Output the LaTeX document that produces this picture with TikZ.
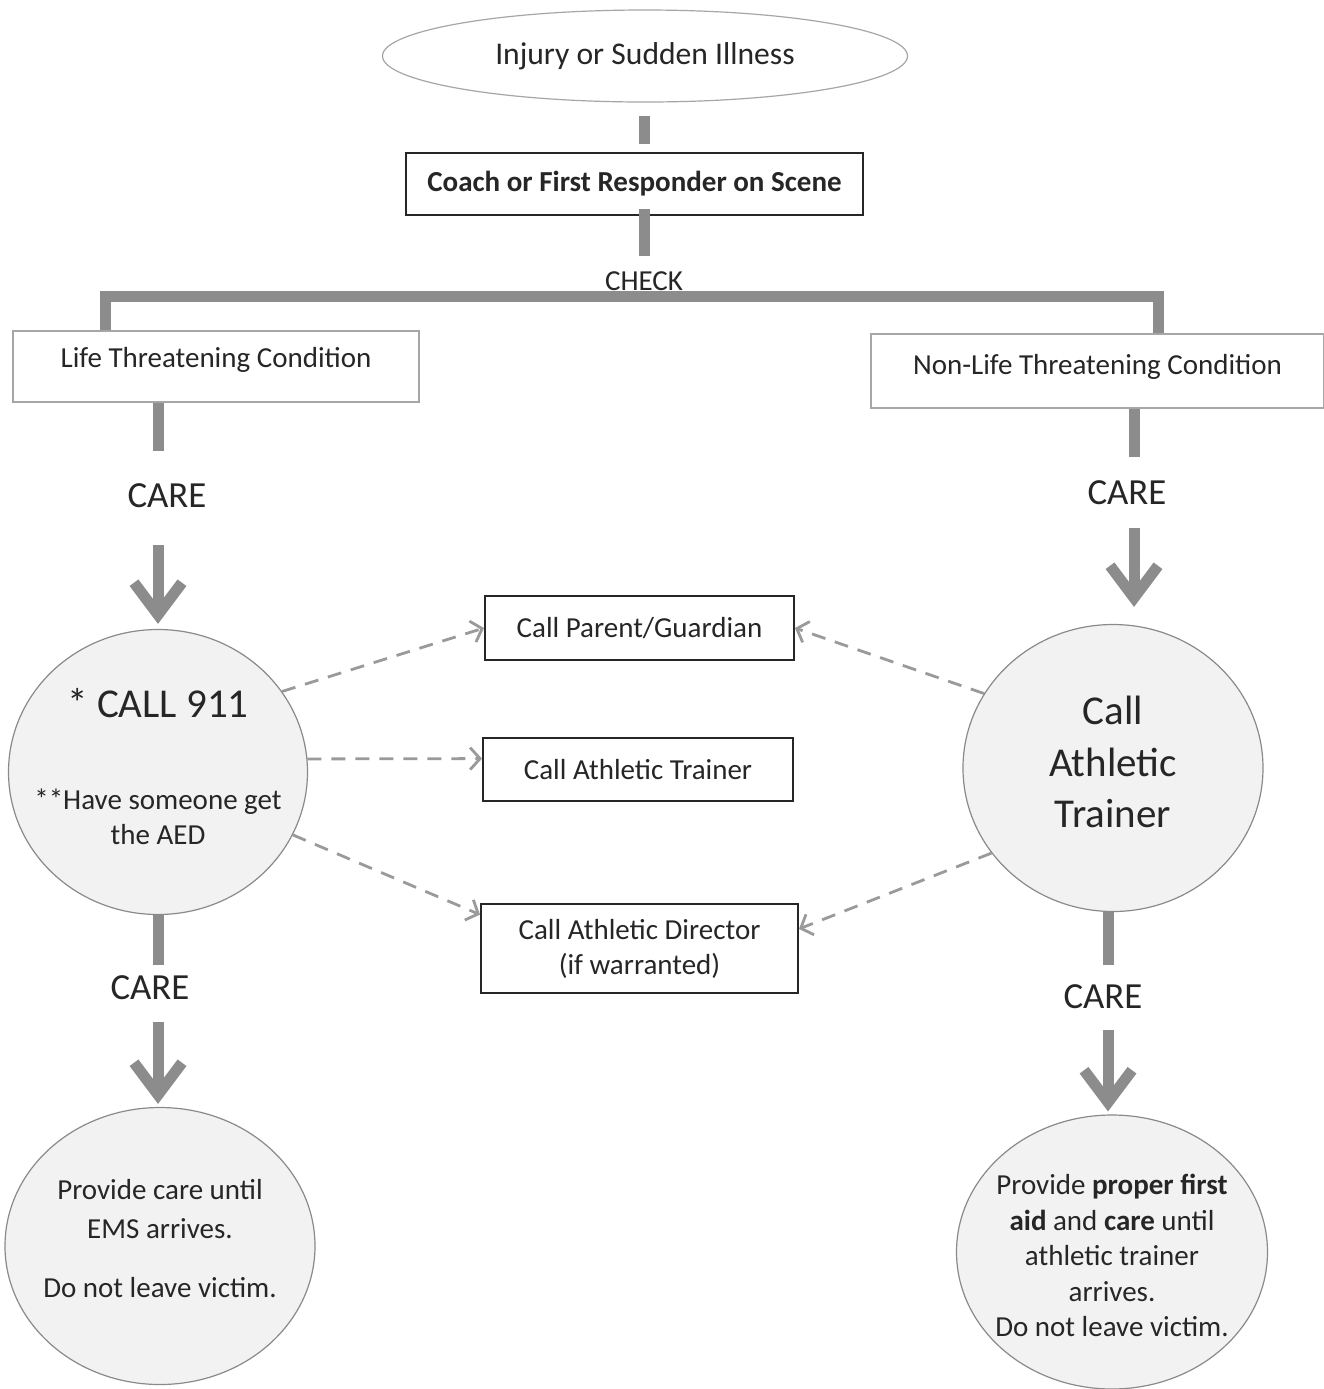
\documentclass[tikz,border=0pt]{standalone}
\usepackage{fontspec}
\setmainfont{Carlito}
\usepackage{xcolor}
\usetikzlibrary{arrows.meta,shapes.geometric}

\definecolor{bargray}{HTML}{8C8C8C}
\definecolor{dashgray}{HTML}{9A9A9A}
\definecolor{circfill}{HTML}{F2F2F2}
\definecolor{circdraw}{HTML}{8A8A8A}
\definecolor{textdark}{HTML}{262626}

\newcommand{\boxfont}{\fontsize{14.5}{17.5}\selectfont}
\newcommand{\carefont}{\fontsize{18.4}{22}\selectfont}
\newcommand{\bigfont}{\fontsize{20.5}{25.75}\selectfont}

\tikzset{
  bar/.style={draw=bargray,line width=5.5pt},
  carearrow/.style={draw=bargray,line width=5.5pt,
    -{Straight Barb[length=16pt,width=24pt]}},
  dasharrow/.style={draw=dashgray,line width=1.4pt,dash pattern=on 7pt off 5pt,
    -{Straight Barb[length=5pt,width=11pt]}},
}

\begin{document}
\begin{tikzpicture}[x=0.5pt,y=-0.5pt,text=textdark]
		\tikzstyle{mybox}=[draw=black!85,line width=1pt,inner sep=0pt,font=\boxfont,align=center]
		\tikzstyle{condbox}=[draw=gray!70,line width=0.6pt,inner sep=0pt,font=\boxfont]
		\tikzstyle{circ}=[ellipse,draw=circdraw,fill=circfill,line width=0.6pt,inner sep=-12pt,align=center,font=\boxfont]
		\tikzstyle{carelabel}=[inner sep=0pt,font=\carefont]

		\fill[white] (0,0) rectangle (1324,1389);
		\useasboundingbox (0,0) rectangle (1324,1389);

		\node[ellipse,draw=gray!70,line width=0.6pt,minimum width=262.5pt,minimum height=46pt,font=\fontsize{15.8}{19}\selectfont] (injury) at (645,56) {Injury or Sudden Illness};
		\node[mybox,minimum width=228.5pt,minimum height=31pt,font=\boxfont\bfseries] (coach) at (634.5,184) {Coach or First Responder on Scene};
		\node[inner sep=0pt,font=\boxfont] (check) at (644,281) {CHECK};

		\node[condbox,minimum width=203pt,minimum height=35.5pt,text depth=9pt] (life) at (216,366.5) {Life Threatening Condition};
		\node[condbox,minimum width=226.5pt,minimum height=37pt,text depth=7pt] (nonlife) at (1097.5,371) {Non-Life Threatening Condition};

		\node[carelabel] (careA) at (167,496) {CARE};
		\node[carelabel] (careB) at (1127,493) {CARE};
		\node[carelabel] (careC) at (150,988) {CARE};
		\node[carelabel] (careD) at (1103,997) {CARE};

		\node[circ,minimum width=149.5pt,minimum height=142.5pt] (call911) at (158,772)
			{{\bigfont * CALL 911}\\[28.5pt]**Have someone get\\the AED\\[-11.5pt]\mbox{}};
		\node[circ,minimum width=150pt,minimum height=143.5pt,font=\bigfont] (callat) at (1113,768)
			{Call\\Athletic\\Trainer\\[-19.75pt]\mbox{}};
		\node[circ,minimum width=155pt,minimum height=138.5pt] (ems) at (160,1246)
			{Provide care until\\[2pt]EMS arrives.\\[12pt]Do not leave victim.\\[-10pt]\mbox{}};
		\node[circ,minimum width=155.5pt,minimum height=137pt] (waitat) at (1112,1252)
			{Provide \textbf{proper first}\\[0.3pt]\textbf{aid} and \textbf{care} until\\[0.3pt]athletic trainer\\[0.3pt]arrives.\\[0.3pt]Do not leave victim.\\[-21pt]\mbox{}};

		\node[mybox,minimum width=154.5pt,minimum height=32pt] (parent) at (639.5,628) {Call Parent/Guardian};
		\node[mybox,minimum width=155pt,minimum height=31.5pt] (trainer) at (638,769.5) {Call Athletic Trainer};
		\node[mybox,minimum width=158.5pt,minimum height=44.5pt] (director) at (639.5,948.5) {Call Athletic Director\\(if warranted)};

		\coordinate (lt) at (105,296);
		\coordinate (rt) at (1158,296);
		\coordinate (rcol) at (1134,0);
		\coordinate (rcolb) at (1108,0);

		% check
		\draw[bar,shorten <=6.5pt,shorten >=4pt] (injury.south -| check) -- (check |- coach.north);
		\draw[bar,shorten <=-3.5pt,shorten >=7.5pt] (check |- coach.south) -- (check.north);
		\draw[bar] (lt |- life.north) -- (lt) -- (rt) -- (rt |- nonlife.north);

		% care
		\draw[bar,shorten >=16.5pt] (life.south -| call911) -- (careA.north -| call911);
		\draw[carearrow,shorten <=18.5pt,shorten >=2.5pt] (careA.south -| call911) -- (call911.north);
		\draw[bar,shorten >=5.5pt] (call911.south) -- (careC.north -| call911);
		\draw[carearrow,shorten <=11pt,shorten >=1.5pt] (careC.south -| call911) -- (ems.north -| call911);

		\draw[bar,shorten >=12pt] (nonlife.south -| rcol) -- (careB.north -| rcol);
		\draw[carearrow,shorten <=11.5pt,shorten >=8.5pt] (careB.south -| rcol) -- (callat.north -| rcol);
		\draw[bar,shorten >=10pt] (callat.south -| rcolb) -- (careD.north -| rcolb);
		\draw[carearrow,shorten <=10.5pt,shorten >=1.5pt] (careD.south -| rcolb) -- (waitat.north -| rcolb);

		% calls
		\draw[dasharrow] (call911.33) -- (parent.west);
		\draw[dasharrow] (call911.5) -- (trainer.176);
		\draw[dasharrow] (call911.-25) -- (director.168);
		\draw[dasharrow] (callat.150) -- (parent.east);
		\draw[dasharrow] (callat.215) -- (director.7);

	\end{tikzpicture}
\end{document}
